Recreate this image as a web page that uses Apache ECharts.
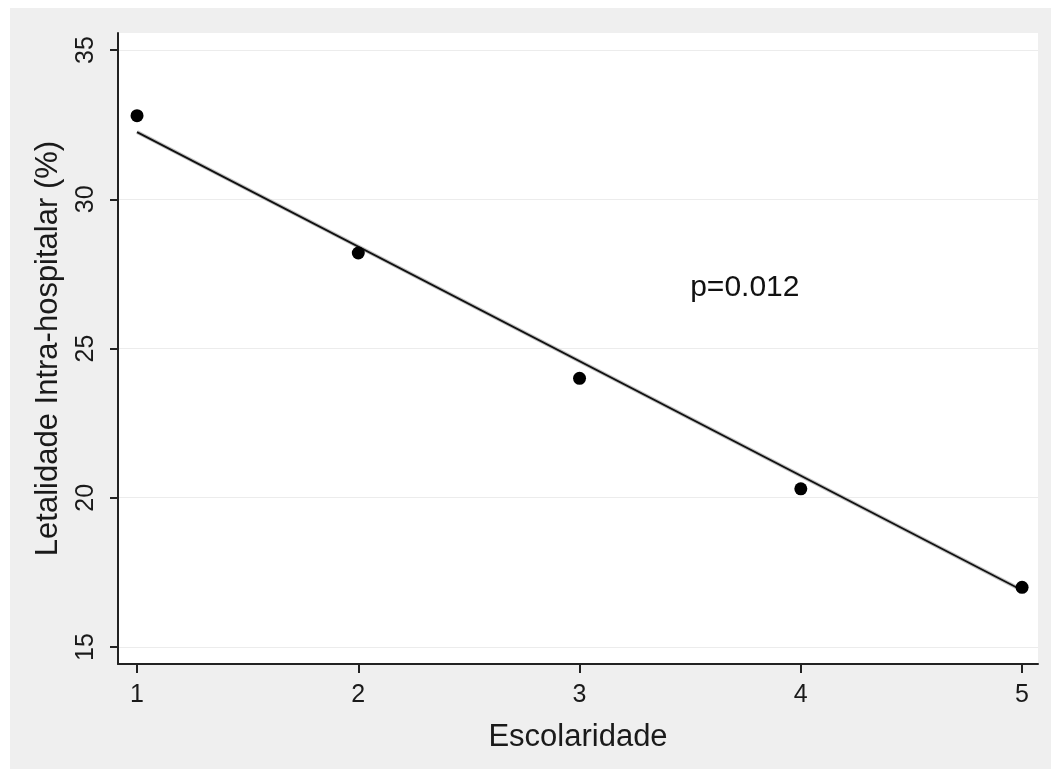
<!DOCTYPE html>
<html>
<head>
<meta charset="utf-8">
<script src="https://cdn.jsdelivr.net/npm/echarts@6/dist/echarts.min.js"></script>
<style>
html,body{margin:0;padding:0;background:#efefef;}
#chart{width:1051px;height:769px;}
</style>
</head>
<body>
<div id="chart"></div>
<script>
// Data
const escolaridade = [1, 2, 3, 4, 5];
const letalidade = [32.8, 28.2, 24.0, 20.3, 17.0];
const fitX = [1, 5];
const fitY = [32.25, 16.9];
const yTicks = [15, 20, 25, 30, 35];
const xTicks = [1, 2, 3, 4, 5];
const annotation = { x: 3.5, y: 27.05, text: 'p=0.012' };

const font = 'Arial, "Liberation Sans", sans-serif';
const chart = echarts.init(document.getElementById('chart'), null, { renderer: 'canvas' });

const option = {
  backgroundColor: '#efefef',
  animation: false,
  graphic: [
    { type: 'rect', z: -10, silent: true, shape: { x: 0, y: 0, width: 1051, height: 8 }, style: { fill: '#ffffff' } },
    { type: 'rect', z: -10, silent: true, shape: { x: 0, y: 0, width: 10, height: 769 }, style: { fill: '#ffffff' } },
    { type: 'rect', z: -9, silent: true, shape: { x: 118, y: 33, width: 920, height: 631 }, style: { fill: '#ffffff' } }
  ],
  grid: { left: 118, right: 13, top: 33, bottom: 105, containLabel: false },
  xAxis: {
    type: 'value',
    min: 0.914, max: 5.072,
    name: 'Escolaridade',
    nameLocation: 'middle',
    nameGap: 58,
    nameTextStyle: { fontFamily: font, fontSize: 31, color: '#1a1a1a' },
    axisLine: { show: true, onZero: false, lineStyle: { color: '#222', width: 2 } },
    axisTick: { show: true, length: 9, customValues: xTicks, lineStyle: { color: '#222', width: 2 } },
    axisLabel: { customValues: xTicks, margin: 19, fontFamily: font, fontSize: 25, color: '#1a1a1a' },
    splitLine: { show: false }
  },
  yAxis: {
    type: 'value',
    min: 14.43, max: 35.57,
    name: 'Letalidade Intra-hospitalar (%)',
    nameLocation: 'middle',
    nameGap: 54,
    nameRotate: 90,
    nameTextStyle: { fontFamily: font, fontSize: 31, color: '#1a1a1a' },
    axisLine: { show: true, onZero: false, lineStyle: { color: '#222', width: 2 } },
    axisTick: { show: true, length: 8, customValues: yTicks, lineStyle: { color: '#222', width: 2 } },
    axisLabel: { customValues: yTicks, rotate: 90, margin: 19, fontFamily: font, fontSize: 25, color: '#1a1a1a' },
    splitLine: { show: true, lineStyle: { color: '#ececec', width: 1 } }
  },
  series: [
    {
      type: 'line',
      data: fitX.map((x, i) => [x, fitY[i]]),
      symbol: 'none',
      lineStyle: { color: '#c4c4c4', width: 4 },
      z: 2, silent: true
    },
    {
      type: 'line',
      data: fitX.map((x, i) => [x, fitY[i]]),
      symbol: 'none',
      lineStyle: { color: '#111', width: 1.8 },
      z: 3, silent: true
    },
    {
      type: 'scatter',
      data: escolaridade.map((x, i) => [x, letalidade[i]]),
      symbol: 'circle',
      symbolSize: 13,
      itemStyle: { color: '#000', opacity: 1 },
      z: 4
    },
    {
      type: 'scatter',
      data: [[annotation.x, annotation.y]],
      symbolSize: 0,
      itemStyle: { opacity: 1 },
      label: {
        show: true, position: 'right', distance: 0,
        formatter: annotation.text,
        fontFamily: font, fontSize: 30, color: '#111', opacity: 1
      },
      z: 5, silent: true
    }
  ]
};
chart.setOption(option);
</script>
</body>
</html>
